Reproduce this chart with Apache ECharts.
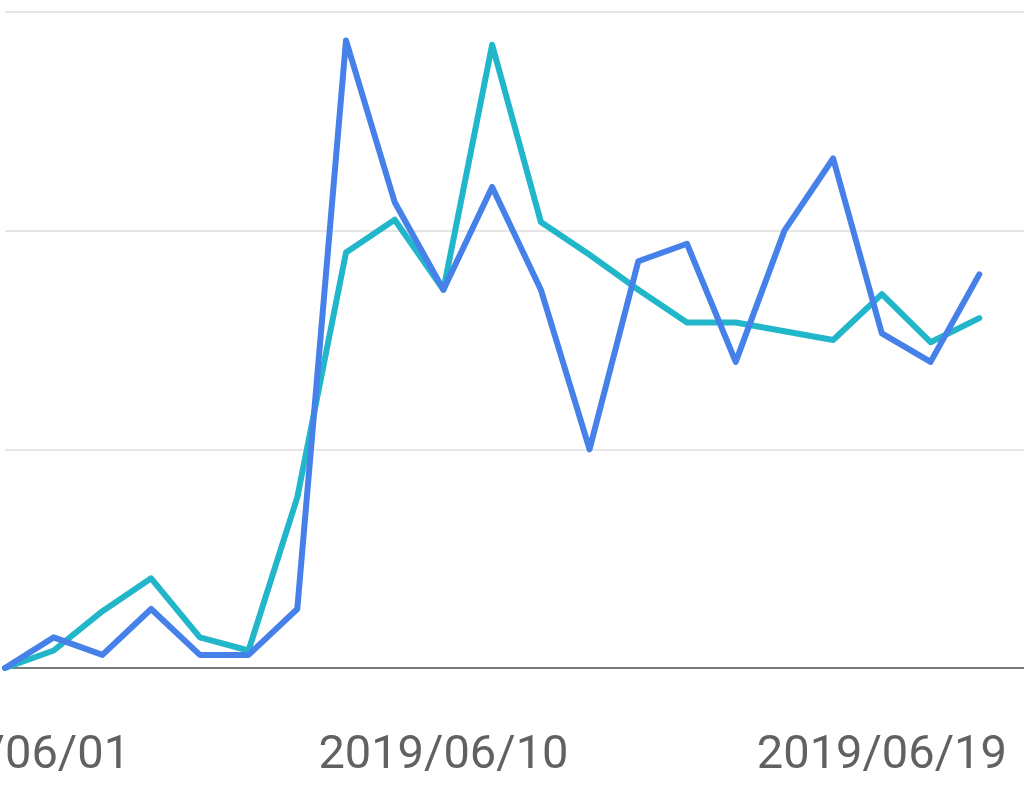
<!DOCTYPE html>
<html>
<head>
<meta charset="utf-8">
<script src="https://cdn.jsdelivr.net/npm/echarts@6/dist/echarts.min.js"></script>
<style>
html,body{margin:0;padding:0;background:#fff;}
#chart{width:1024px;height:791px;}
</style>
</head>
<body>
<div id="chart"></div>
<script>
const categories = ['2019/06/01','2019/06/02','2019/06/03','2019/06/04','2019/06/05','2019/06/06','2019/06/07','2019/06/08','2019/06/09','2019/06/10','2019/06/11','2019/06/12','2019/06/13','2019/06/14','2019/06/15','2019/06/16','2019/06/17','2019/06/18','2019/06/19','2019/06/20','2019/06/21','2019/06/22'];
const blueValues = [0, 14, 6, 27, 6, 6, 27, 287, 213, 173, 220, 173, 100, 186, 194, 140, 200, 233, 153, 140, 180];
const tealValues = [0, 8, 26, 41, 14, 8, 78, 190, 205, 173, 285, 204, 189, 173, 158, 158, 154, 150, 171, 149, 160];

const chart = echarts.init(document.getElementById('chart'), null, {renderer:'canvas'});
chart.setOption({
  animation: false,
  backgroundColor: '#ffffff',
  grid: {left: 5, right: -4, top: 12, bottom: 123, containLabel: false, outerBoundsMode: 'none'},
  xAxis: {
    type: 'category',
    data: categories,
    boundaryGap: false,
    axisLine: {show: true, lineStyle: {color: '#7a7a7a', width: 2}},
    axisTick: {show: false},
    axisLabel: {
      interval: 8,
      formatter: function (value, index) { return index % 9 === 0 ? value : ''; },
      color: '#616161',
      fontSize: 47,
      fontFamily: 'Roboto',
      margin: 65,
      hideOverlap: false,
      showMinLabel: true,
      showMaxLabel: true
    },
    splitLine: {show: false}
  },
  yAxis: {
    type: 'value',
    min: 0, max: 300, interval: 100,
    axisLine: {show: false},
    axisTick: {show: false},
    axisLabel: {show: false},
    splitLine: {show: true, lineStyle: {color: '#e6e6e6', width: 2}}
  },
  series: [
    {
      name: 'teal', type: 'line', data: tealValues, showSymbol: false, symbol: 'none',
      lineStyle: {color: '#21b6c9', width: 6, join: 'round', cap: 'round'}, z: 2
    },
    {
      name: 'blue', type: 'line', data: blueValues, showSymbol: false, symbol: 'none',
      lineStyle: {color: '#4681ea', width: 6, join: 'round', cap: 'round'}, z: 3
    }
  ]
});
</script>
</body>
</html>
